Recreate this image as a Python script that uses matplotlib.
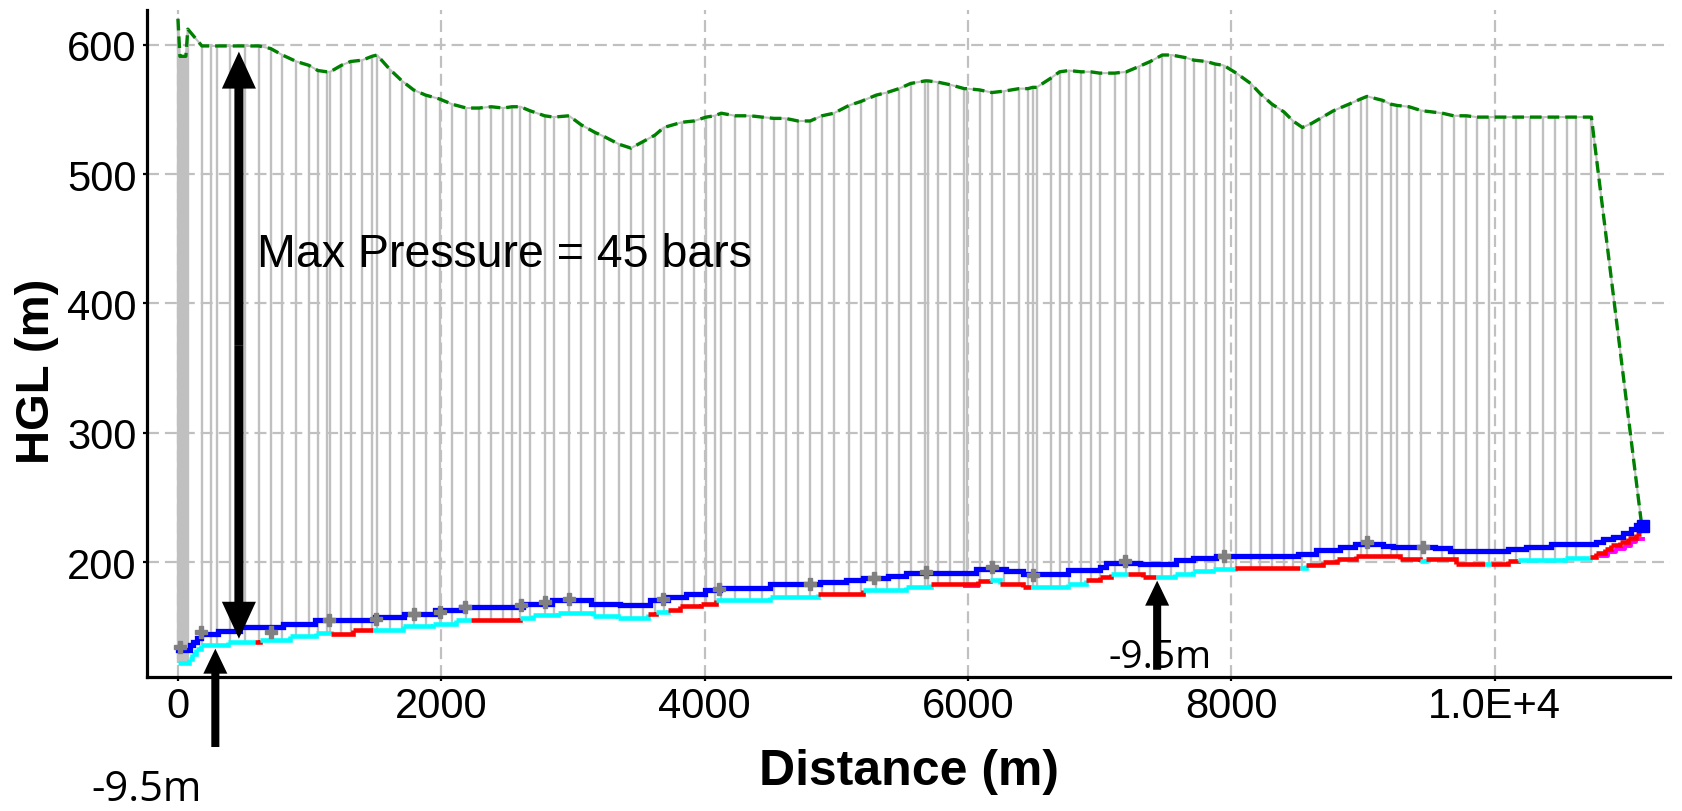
import numpy as np
import matplotlib
matplotlib.use("Agg")
import matplotlib.pyplot as plt
from matplotlib import font_manager
from matplotlib.collections import LineCollection
from matplotlib.path import Path
from matplotlib.transforms import blended_transform_factory

plt.rcParams["lines.scale_dashes"] = False

# ---------------------------------------------------------------- data
# node chainage along the main (m) and maximum transient HGL at each node (m)
node_x = [0, 15, 30, 45, 60, 75, 182, 248, 296, 398,
          506, 615, 704, 793, 899, 995, 1063, 1132, 1156, 1241,
          1312, 1400, 1474, 1512, 1608, 1701, 1790, 1881, 1987, 2081,
          2190, 2286, 2380, 2469, 2537, 2600, 2671, 2785, 2853, 2970,
          3063, 3170, 3236, 3350, 3441, 3532, 3622, 3691, 3828, 3919,
          4012, 4076, 4126, 4233, 4347, 4435, 4526, 4615, 4709, 4802,
          4891, 4982, 5096, 5185, 5304, 5385, 5476, 5565, 5675, 5697,
          5772, 5866, 5972, 5992, 6089, 6182, 6271, 6388, 6456, 6492,
          6522, 6628, 6696, 6767, 6861, 6932, 7000, 7114, 7203, 7296,
          7385, 7476, 7545, 7651, 7717, 7810, 7879, 7942, 8038, 8147,
          8221, 8309, 8400, 8469, 8540, 8608, 8676, 8778, 8894, 8983,
          9031, 9147, 9211, 9259, 9350, 9444, 9603, 9689, 9785, 9866,
          9958, 10069, 10160, 10272, 10368, 10456, 10550, 10621, 10735, 11115]
hgl_max = [620, 591, 591, 591, 591, 612, 599, 599, 599, 599,
           599, 599, 597, 592, 587, 584, 580, 579, 579, 584,
           587, 588, 591, 592, 581, 572, 565, 561, 558, 554,
           551, 551, 552, 551, 552, 552, 549, 545, 544, 545,
           538, 532, 529, 523, 520, 525, 530, 536, 540, 541,
           544, 545, 547, 545, 545, 544, 543, 543, 541, 541,
           545, 547, 553, 556, 561, 563, 566, 570, 572, 572,
           571, 569, 566, 566, 565, 563, 564, 566, 566, 567,
           567, 574, 579, 580, 579, 579, 578, 578, 579, 583,
           587, 592, 592, 590, 588, 587, 585, 584, 578, 570,
           562, 554, 548, 541, 536, 539, 543, 549, 554, 558,
           560, 557, 554, 553, 552, 549, 547, 545, 545, 544,
           544, 544, 544, 544, 544, 544, 544, 544, 544, 230]

# steady-state HGL, stepwise (start chainage, level)
hgl_init_x = [0, 89, 118, 148, 177, 304, 469, 797, 1040, 1500,
              1720, 1950, 2150, 2620, 2840, 3135, 3355, 3583, 3721, 3860,
              4000, 4114, 4500, 4873, 5076, 5202, 5392, 5532, 6063, 6291,
              6418, 6760, 7000, 7051, 7304, 7583, 7709, 7886, 8507, 8646,
              8823, 8937, 9152, 9228, 9545, 9659, 10102, 10241, 10431, 10773,
              10824, 10900, 10975, 11039, 11076, 11115]
hgl_init_y = [131.7, 135.6, 138.5, 141.5, 144.6, 146.4, 149.7, 152.3, 154.9, 157.5,
              160.0, 162.6, 165.2, 167.8, 170.3, 167.8, 167.0, 170.3, 172.9, 175.5,
              178.1, 180.2, 183.2, 184.5, 185.8, 187.6, 189.2, 191.7, 194.3, 193.0,
              191.0, 193.5, 196.0, 199.5, 198.7, 201.3, 203.4, 204.6, 206.4, 209.0,
              211.6, 214.2, 212.4, 211.6, 210.8, 208.5, 210.3, 211.6, 214.2, 215.5,
              217.5, 219.3, 222.7, 225.3, 228.5, 228.5]

# minimum transient HGL, stepwise; flag = 1 where the step is vapour-limited
hgl_min_x = [0, 81, 110, 140, 177, 380, 583, 626, 848, 1051,
             1165, 1329, 1481, 1709, 1937, 2114, 2228, 2595, 2700, 2887,
             3153, 3343, 3570, 3633, 3721, 3810, 3974, 4088, 4493, 4861,
             5202, 5532, 5722, 6076, 6164, 6240, 6418, 6481, 6760, 6899,
             7000, 7089, 7215, 7330, 7431, 7570, 7709, 7861, 8026, 8520,
             8570, 8700, 8800, 8950, 9279, 9430, 9482, 9709, 9925, 9975,
             10102, 10178, 10532, 10722, 10773, 10836, 10886, 10950, 11013, 11076,
             11115]
hgl_min_y = [122.0, 125.0, 129.0, 132.5, 135.6, 138.1, 138.1, 139.4, 142.8, 145.4,
             144.6, 147.7, 147.2, 150.5, 152.3, 154.9, 154.9, 156.7, 158.8, 160.6,
             158.2, 157.0, 160.0, 161.3, 162.6, 165.7, 167.8, 170.3, 172.9, 175.5,
             178.1, 180.6, 183.2, 185.0, 185.8, 183.2, 180.6, 180.6, 183.2, 185.8,
             188.4, 191.0, 191.0, 188.4, 188.4, 191.0, 192.8, 194.9, 195.6, 195.6,
             197.4, 200.0, 202.6, 204.4, 202.6, 200.8, 202.1, 198.7, 198.7, 198.7,
             200.8, 201.3, 203.4, 203.9, 207.0, 210.3, 212.9, 215.5, 218.6, 222.0,
             222.0]
hgl_min_vapour = [0, 0, 0, 0, 0, 0, 1, 0, 0, 0,
                  1, 1, 0, 0, 0, 0, 1, 0, 0, 0,
                  0, 0, 1, 0, 1, 1, 1, 0, 0, 1,
                  0, 0, 1, 1, 0, 1, 1, 0, 0, 1,
                  1, 0, 1, 1, 0, 0, 0, 0, 1, 0,
                  1, 1, 1, 1, 1, 0, 1, 1, 0, 1,
                  1, 0, 0, 1, 1, 1, 1, 1, 1, 1,
                  1]

# pipe profile where it is visible below the other lines
pipe_x = [5975, 6076, np.nan, 10811, 10862, 10925, 10988, 11039, 11077, 11127]
pipe_y = [181.5, 181.5, np.nan, 204.6, 207.7, 210.3, 212.4, 215.5, 218.0, 218.0]

# junction markers along the steady-state HGL
junction_x = [13, 177, 709, 1145, 1507, 1790, 1988, 2178, 2608, 2785, 2970,
              3683, 4109, 4802, 5283, 5679, 6182, 6494, 7190, 7945, 9031, 9456]
junction_y = [134, 146, 146, 155, 156, 160, 161, 165, 166.5, 169, 171.6,
              171.6, 179, 183, 188, 192, 196, 190, 201, 205, 215.5, 211.6]

# downstream reservoir
reservoir_x = [11124]
reservoir_y = [228]

# pressure annotation: arrow chainage and its two ends
max_p_x = 463
max_p_top = 594.6
max_p_bottom = 140.7
max_p_label = "Max Pressure = 45 bars"

# minimum pressure callouts: chainage and arrow tip level
min_p_x = [284, 7437]
min_p_tip = [133, 185.6]
min_p_label = "-9.5m"

x_ticks = [0, 2000, 4000, 6000, 8000, 10000]
x_tick_labels = ["0", "2000", "4000", "6000", "8000", "1.0E+4"]
y_ticks = [200, 300, 400, 500, 600]
y_tick_labels = ["200", "300", "400", "500", "600"]

# ---------------------------------------------------------------- fonts
def installed(family):
    try:
        font_manager.findfont(font_manager.FontProperties(family=family),
                              fallback_to_default=False)
        return True
    except ValueError:
        return False

if installed("Liberation Sans Narrow"):
    tick_font, tick_size, note_size = "Liberation Sans Narrow", 36, 38
else:
    tick_font, tick_size, note_size = "Liberation Sans", 30, 33.5

# ---------------------------------------------------------------- figure
W, H = 1682, 812
fig = plt.figure(figsize=(W / 100, H / 100), dpi=100)
ax = fig.add_axes([147 / W, 1 - 678 / H, (1670 - 147) / W, (678 - 11) / H])
ax.set_xlim(-235, 11332)
ax.set_ylim(111.1, 626.8)

grey = "#C0C0C0"
ax.set_axisbelow(True)
ax.grid(True, color=grey, lw=1.6, ls=(0, (8.6, 4.3)))

# envelope bars at every node, clipped to the area above the minimum HGL
verts = [(-400, hgl_min_y[0])]
for i in range(len(hgl_min_x) - 1):
    verts.append((hgl_min_x[i], hgl_min_y[i]))
    verts.append((hgl_min_x[i + 1], hgl_min_y[i]))
verts += [(11400, hgl_min_y[-1]), (11400, 800), (-400, 800), (-400, hgl_min_y[0])]
clip = Path(verts, closed=True)
bars = ax.vlines(node_x, 100, hgl_max, colors=grey, lw=1.7, zorder=1)
bars.set_clip_path(clip, ax.transData)

# maximum HGL envelope
ax.plot(node_x, hgl_max, color=grey, lw=1.5, zorder=1.2)
ax.plot(node_x, hgl_max, color="#008000", lw=2.4, ls=(0, (8.4, 4.3)),
        solid_joinstyle="miter", zorder=2)

# minimum HGL, coloured by step
segs, cols = [], []
for i in range(len(hgl_min_x) - 1):
    segs.append([(hgl_min_x[i], hgl_min_y[i]),
                 (hgl_min_x[i + 1], hgl_min_y[i]),
                 (hgl_min_x[i + 1], hgl_min_y[i + 1])])
    cols.append("#FF0000" if hgl_min_vapour[i] else "#00FFFF")
ax.add_collection(LineCollection(segs, colors=cols, linewidths=3.3,
                                 joinstyle="miter", capstyle="butt", zorder=3))

ax.plot(pipe_x, pipe_y, color="#FF00FF", lw=2.8, drawstyle="steps-post", zorder=2.9)

# steady-state HGL
ax.plot(hgl_init_x, hgl_init_y, color="#0000FF", lw=3.8, drawstyle="steps-post",
        solid_joinstyle="miter", zorder=4)
ax.plot(junction_x, junction_y, ls="none", marker="P", ms=9, color="#808080",
        mec="#808080", zorder=4.5)
ax.plot(reservoir_x, reservoir_y, ls="none", marker="s", ms=9, color="#0000FF",
        zorder=5)

# axes styling
for side in ("top", "right"):
    ax.spines[side].set_visible(False)
for side in ("left", "bottom"):
    ax.spines[side].set_linewidth(2.3)
    ax.spines[side].set_color("black")
ax.set_xticks(x_ticks)
ax.set_xticklabels(x_tick_labels)
ax.set_yticks(y_ticks)
ax.set_yticklabels(y_tick_labels)
ax.tick_params(axis="both", direction="out", length=3, width=1.6, color="black")
ax.tick_params(axis="x", pad=3.5)
ax.tick_params(axis="y", pad=4.5)
for lab in ax.get_xticklabels() + ax.get_yticklabels():
    lab.set_fontfamily(tick_font)
    lab.set_fontsize(tick_size)

fig.text(909 / W, 1 - 772 / H, "Distance (m)", ha="center", va="center",
         fontsize=36, fontweight="bold", family="Liberation Sans")
fig.text(37 / W, 1 - 371 / H, "HGL (m)", ha="center", va="center", rotation=90,
         fontsize=34, fontweight="bold", family="Liberation Sans")

# max-pressure double arrow
mid = (max_p_top + max_p_bottom) / 2
big = dict(arrowstyle="simple,head_length=26.6,head_width=24.5,tail_width=6.5",
           fc="black", ec="none", lw=0, shrinkA=0, shrinkB=0, mutation_scale=1)
for tip in (max_p_top, max_p_bottom):
    ax.annotate("", xy=(max_p_x, tip), xytext=(max_p_x, mid), arrowprops=big,
                zorder=6)
ax.text(598, 429, max_p_label, ha="left", va="baseline", fontsize=note_size,
        family=tick_font, zorder=7)

# minimum-pressure callouts
small = dict(arrowstyle="simple,head_length=18,head_width=17.3,tail_width=5.8",
             fc="black", ec="none", lw=0, shrinkA=0, shrinkB=0, mutation_scale=1)
below = blended_transform_factory(ax.transData, fig.transFigure)
ax.annotate("", xy=(min_p_x[0], min_p_tip[0]), xytext=(min_p_x[0], 1 - 748 / H),
            textcoords=below, arrowprops=small, annotation_clip=False, zorder=6)
fig.text(147 / W, 1 - 790 / H, min_p_label, ha="center", va="center",
         fontsize=30, family="Open Sans")
ax.text(7457, 126.8, min_p_label, ha="center", va="center", fontsize=28,
        family="Open Sans", zorder=5.5)
ax.annotate("", xy=(min_p_x[1], min_p_tip[1]), xytext=(min_p_x[1], 116.7),
            arrowprops=small, zorder=6)

fig.savefig("out.png", dpi=100)
